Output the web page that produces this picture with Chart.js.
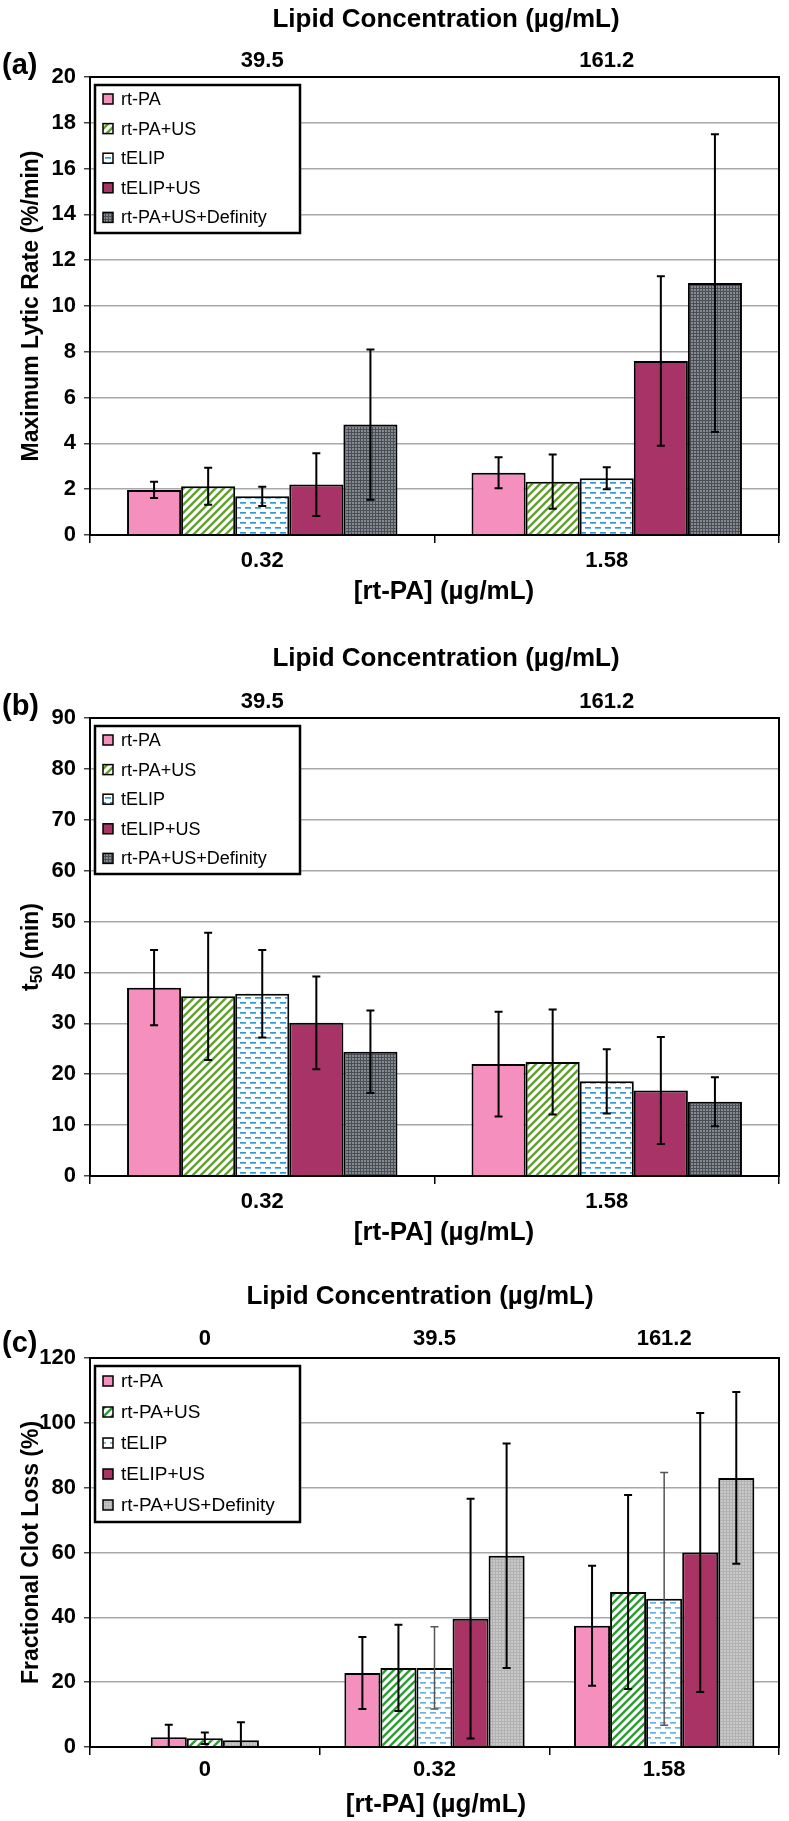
<!DOCTYPE html>
<html>
<head>
<meta charset="utf-8">
<script src="https://cdn.jsdelivr.net/npm/chart.js@4.4.0/dist/chart.umd.min.js"></script>
<style>
  body { margin: 0; background: #fff; }
  #wrap { position: relative; width: 789px; height: 1821px; }
  canvas { position: absolute; left: 0; }
</style>
</head>
<body>
<div id="wrap">
  <canvas id="chartA" width="789" height="612" style="top:0px"></canvas>
  <canvas id="chartB" width="789" height="612" style="top:640px"></canvas>
  <canvas id="chartC" width="789" height="541" style="top:1280px"></canvas>
</div>
<script>
const seriesNames = ["rt-PA", "rt-PA+US", "tELIP", "tELIP+US", "rt-PA+US+Definity"];

// (a) maximum lytic rate
const doseAB = ["0.32", "1.58"];
const lipidAB = ["39.5", "161.2"];
const rateRtpa = [1.97, 2.72],     rateRtpaErr = [0.35, 0.68];
const rateRtpaUs = [2.13, 2.33],   rateRtpaUsErr = [0.81, 1.18];
const rateTelip = [1.69, 2.48],    rateTelipErr = [0.42, 0.48];
const rateTelipUs = [2.2, 7.6],    rateTelipUsErr = [1.37, 3.7];
const rateDefinity = [4.82, 11.0], rateDefinityErr = [3.28, 6.5];

// (b) t50
const t50Rtpa = [37.0, 22.0],     t50RtpaErr = [7.4, 10.3];
const t50RtpaUs = [35.3, 22.4],   t50RtpaUsErr = [12.5, 10.3];
const t50Telip = [35.8, 18.6],    t50TelipErr = [8.6, 6.3];
const t50TelipUs = [30.1, 16.8],  t50TelipUsErr = [9.1, 10.5];
const t50Definity = [24.4, 14.6], t50DefinityErr = [8.1, 4.8];

// (c) fractional clot loss (first group holds the controls)
const doseC = ["0", "0.32", "1.58"];
const lipidC = ["0", "39.5", "161.2"];
const lossRtpa = [0, 22.8, 37.4],       lossRtpaErr = [0, 11.1, 18.5];
const lossRtpaUs = [3.0, 24.4, 47.8],   lossRtpaUsErr = [3.9, 13.3, 29.9];
const lossTelip = [2.7, 24.4, 45.7],    lossTelipErr = [1.8, 12.7, 39.0];
const lossTelipUs = [2.1, 39.6, 60.0],  lossTelipUsErr = [5.5, 37.0, 43.0];
const lossDefinity = [0, 59.0, 83.0],   lossDefinityErr = [0, 34.6, 26.5];

const FONT = "'Liberation Sans', Arial, sans-serif";

function tile(ctx, w, h, draw) {
  const c = document.createElement('canvas');
  c.width = w; c.height = h;
  draw(c.getContext('2d'));
  return ctx.createPattern(c, 'repeat');
}

function makeFills(ctx, green, dash, grayBase, grayLine, maroon) {
  const stripes = tile(ctx, 8, 8, g => {
    g.fillStyle = '#fff'; g.fillRect(0, 0, 8, 8);
    g.strokeStyle = green; g.lineWidth = 2.4;
    g.beginPath();
    g.moveTo(-2, 10); g.lineTo(10, -2);
    g.moveTo(-6, 6); g.lineTo(6, -6);
    g.moveTo(2, 14); g.lineTo(14, 2);
    g.stroke();
  });
  const dashes = tile(ctx, 10, 10, g => {
    g.fillStyle = '#fff'; g.fillRect(0, 0, 10, 10);
    g.fillStyle = dash;
    g.fillRect(0, 2, 6, 1.7);
    g.fillRect(5, 7, 5, 1.7);
    g.fillRect(0, 7, 1, 1.7);
  });
  const mesh = tile(ctx, 3, 3, g => {
    g.fillStyle = grayBase; g.fillRect(0, 0, 3, 3);
    g.fillStyle = grayLine; g.fillRect(0, 0, 3, 1); g.fillRect(0, 0, 1, 3);
  });
  return ['#F590BE', stripes, dashes, maroon, mesh];
}

// y title drawn as rotated runs so t50 can carry a real subscript
function drawYTitle(ctx, parts, x, cy) {
  const big = 'bold 23px ' + FONT, small = 'bold 16px ' + FONT;
  let total = 0;
  parts.forEach(p => { ctx.font = p.sub ? small : big; p.w = ctx.measureText(p.t).width; total += p.w; });
  ctx.save();
  ctx.translate(x, cy);
  ctx.rotate(-Math.PI / 2);
  ctx.textAlign = 'left';
  ctx.textBaseline = 'alphabetic';
  let px = -total / 2;
  parts.forEach(p => {
    ctx.font = p.sub ? small : big;
    ctx.fillText(p.t, px, p.sub ? 12 : 8);
    px += p.w;
  });
  ctx.restore();
}

const panelPlugin = {
  id: 'panel',
  afterDatasetsDraw(chart, args, o) {
    const { ctx, chartArea: a, scales: { y } } = chart;
    ctx.save();
    ctx.beginPath();
    ctx.rect(a.left, a.top, a.right - a.left, a.bottom - a.top);
    ctx.clip();
    chart.data.datasets.forEach((ds, i) => {
      chart.getDatasetMeta(i).data.forEach((bar, j) => {
        const e = ds.err[j];
        if (!e) return;
        const v = ds.data[j];
        const y1 = y.getPixelForValue(v + e), y2 = y.getPixelForValue(v - e);
        const src = (j === 0 && o.slotMap) ? o.slotMap[i] : i;
        const thin = o.thinErr && o.thinErr[src] && j > 0;
        ctx.strokeStyle = thin ? '#555' : '#000';
        ctx.lineWidth = thin ? 1.5 : 2;
        ctx.beginPath();
        ctx.moveTo(bar.x, y1); ctx.lineTo(bar.x, y2);
        ctx.moveTo(bar.x - 4, y1); ctx.lineTo(bar.x + 4, y1);
        ctx.moveTo(bar.x - 4, y2); ctx.lineTo(bar.x + 4, y2);
        ctx.stroke();
      });
    });
    ctx.restore();
  },
  afterDraw(chart, args, o) {
    const { ctx, chartArea: a } = chart;
    ctx.save();
    // frame
    ctx.strokeStyle = '#000'; ctx.lineWidth = 2;
    ctx.strokeRect(a.left, a.top, a.right - a.left, a.bottom - a.top);
    // legend
    const bx = a.left + 5, by = a.top + o.legTop;
    ctx.fillStyle = '#fff';
    ctx.fillRect(bx, by, o.legW, o.legH);
    ctx.lineWidth = 2.5;
    ctx.strokeRect(bx, by, o.legW, o.legH);
    ctx.font = o.legFont + 'px ' + FONT;
    ctx.textBaseline = 'middle';
    ctx.textAlign = 'left';
    chart.data.datasets.forEach((ds, i) => {
      const cy = by + o.legFirst + i * o.legStep;
      ctx.fillStyle = o.fills[i];
      ctx.fillRect(bx + 8, cy - 5, 10, 10);
      ctx.lineWidth = 1.5; ctx.strokeStyle = '#000';
      ctx.strokeRect(bx + 8, cy - 5, 10, 10);
      ctx.fillStyle = '#000';
      ctx.fillText(ds.label, bx + 26, cy + 1);
    });
    // axis titles
    ctx.font = 'bold 26px ' + FONT;
    ctx.textAlign = 'center';
    ctx.fillText('Lipid Concentration (µg/mL)', o.topTitle[0], o.topTitle[1]);
    ctx.fillText('[rt-PA] (µg/mL)', o.bottomTitle[0], o.bottomTitle[1]);
    drawYTitle(ctx, o.yTitle, 30, (a.top + a.bottom) / 2);
    // panel letter
    ctx.textAlign = 'left';
    ctx.font = 'bold 29px ' + FONT;
    ctx.fillText(o.letter, 2, o.letterY);
    ctx.restore();
  }
};

function buildChart(id, cfg) {
  const el = document.getElementById(id);
  const ctx = el.getContext('2d');
  const fills = makeFills(ctx, cfg.green, cfg.dash, cfg.grayBase, cfg.grayLine, cfg.maroon);
  const H = el.height;
  const datasets = cfg.series.map((s, i) => ({
    label: seriesNames[i],
    data: s[0],
    err: s[1],
    backgroundColor: c => fills[(c.dataIndex === 0 && cfg.slotMap) ? cfg.slotMap[c.datasetIndex] : c.datasetIndex],
    borderColor: '#000',
    borderWidth: 2,
    barPercentage: 1.0,
    categoryPercentage: 0.785
  }));
  const tickFont = { family: FONT, size: 22, weight: 'bold' };
  return new Chart(ctx, {
    type: 'bar',
    data: { labels: cfg.doses, datasets },
    plugins: [panelPlugin],
    options: {
      responsive: false,
      animation: false,
      devicePixelRatio: 1,
      layout: { padding: { left: 0, right: 10, top: 0, bottom: 0 } },
      plugins: {
        legend: { display: false },
        tooltip: { enabled: false },
        panel: {
          fills, letter: cfg.letter, letterY: cfg.top - cfg.topLabelGap + 5,
          legTop: cfg.legTop, legW: cfg.legW, legH: cfg.legH,
          legFirst: cfg.legFirst, legStep: cfg.legStep, legFont: cfg.legFont,
          slotMap: cfg.slotMap, thinErr: cfg.thinErr,
          topTitle: cfg.topTitle, bottomTitle: cfg.bottomTitle, yTitle: cfg.yTitle
        }
      },
      scales: {
        x: {
          position: 'bottom',
          grid: { offset: true, drawOnChartArea: false, tickLength: 8, color: '#000', lineWidth: 1.5 },
          border: { color: '#000', width: 2 },
          ticks: { color: '#000', font: tickFont, padding: cfg.bottomTickPad },
          afterFit: s => { s.height = H - cfg.bottom; }
        },
        x2: {
          type: 'category',
          labels: cfg.lipids,
          position: 'top',
          offset: true,
          grid: { display: false, drawTicks: false },
          border: { display: false },
          ticks: { color: '#000', font: tickFont, padding: cfg.topLabelGap - 13.2 },
          afterFit: s => { s.height = cfg.top; }
        },
        y: {
          min: 0, max: cfg.yMax,
          ticks: { stepSize: cfg.yStep, color: '#000', font: tickFont, padding: 8 },
          grid: { color: '#A8A8A8', lineWidth: 1.5, tickLength: 6, tickColor: '#444' },
          border: { color: '#000', width: 2 },
          afterFit: s => { s.width = 90; }
        }
      }
    }
  });
}

buildChart('chartA', {
  letter: '(a)', doses: doseAB, lipids: lipidAB,
  series: [[rateRtpa, rateRtpaErr], [rateRtpaUs, rateRtpaUsErr], [rateTelip, rateTelipErr],
           [rateTelipUs, rateTelipUsErr], [rateDefinity, rateDefinityErr]],
  yMax: 20, yStep: 2, yTitle: [{ t: 'Maximum Lytic Rate (%/min)' }],
  top: 77, bottom: 535, topLabelGap: 16, bottomTickPad: 5,
  topTitle: [446, 20], bottomTitle: [444, 592],
  legTop: 8, legW: 205, legH: 148, legFirst: 14, legStep: 29.6, legFont: 18,
  green: '#62A030', dash: '#3596D4', grayBase: '#858A91', grayLine: '#4A4F56', maroon: '#A83366'
});

buildChart('chartB', {
  letter: '(b)', doses: doseAB, lipids: lipidAB,
  series: [[t50Rtpa, t50RtpaErr], [t50RtpaUs, t50RtpaUsErr], [t50Telip, t50TelipErr],
           [t50TelipUs, t50TelipUsErr], [t50Definity, t50DefinityErr]],
  yMax: 90, yStep: 10, yTitle: [{ t: 't' }, { t: '50', sub: true }, { t: ' (min)' }],
  top: 78, bottom: 536, topLabelGap: 16, bottomTickPad: 5,
  topTitle: [446, 19], bottomTitle: [444, 593],
  legTop: 8, legW: 205, legH: 148, legFirst: 14, legStep: 29.6, legFont: 18,
  green: '#62A030', dash: '#3596D4', grayBase: '#858A91', grayLine: '#4A4F56', maroon: '#A83366'
});

buildChart('chartC', {
  letter: '(c)', doses: doseC, lipids: lipidC,
  series: [[lossRtpa, lossRtpaErr], [lossRtpaUs, lossRtpaUsErr], [lossTelip, lossTelipErr],
           [lossTelipUs, lossTelipUsErr], [lossDefinity, lossDefinityErr]],
  yMax: 120, yStep: 20, yTitle: [{ t: 'Fractional Clot Loss (%)' }],
  top: 78, bottom: 467, topLabelGap: 19, bottomTickPad: 2,
  topTitle: [420, 17], bottomTitle: [436, 525],
  legTop: 8, legW: 205, legH: 156, legFirst: 15, legStep: 31, legFont: 19,
  slotMap: [0, 0, 1, 4, 4], thinErr: [false, false, true, false, false],
  green: '#2F9A36', dash: '#6AB2E2', grayBase: '#C8C8C8', grayLine: '#B2B2B2', maroon: '#AA3366'
});
</script>
</body>
</html>
